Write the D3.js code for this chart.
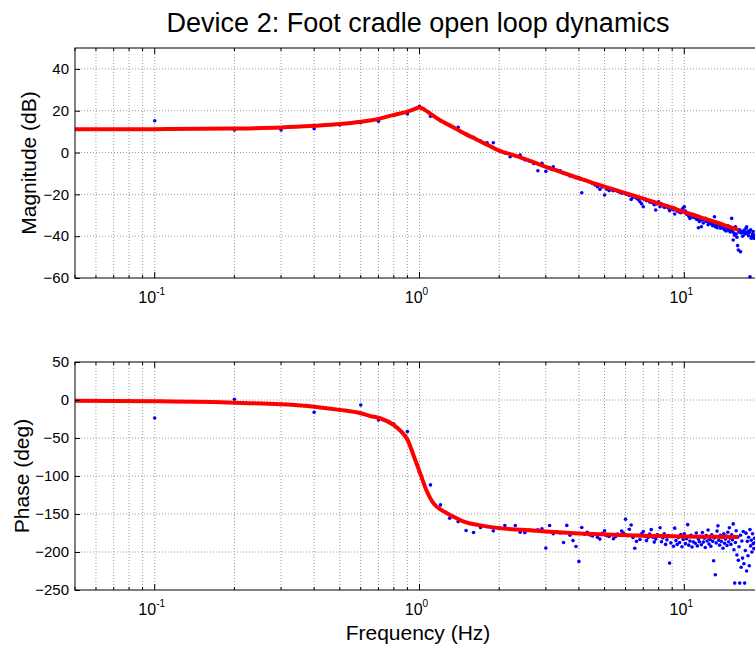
<!doctype html>
<html>
<head>
<meta charset="UTF-8">
<title>Device 2: Foot cradle open loop dynamics</title>
<script src="https://cdn.jsdelivr.net/npm/d3@7"></script>
<style>
    body { margin: 0; background: #fff; }
    svg { display: block; font-family: "Liberation Sans", Arial, sans-serif; }
    .grid line { stroke: #9a9a9a; stroke-width: 1; stroke-dasharray: 1,2; }
</style>
</head>
<body>
<svg id="chart" width="755" height="645"></svg>
<script>
// measured points (Hz), shared by both panels
var measFreq = [
    0.1, 0.2, 0.3, 0.4, 0.5, 0.6, 0.7, 0.8, 0.9, 1.0,
    1.1, 1.2, 1.3, 1.4, 1.5, 1.6, 1.7, 1.8, 1.9, 2.0,
    2.1, 2.2, 2.3, 2.4, 2.5, 2.6, 2.7, 2.8, 2.9, 3.0,
    3.1, 3.2, 3.3, 3.4, 3.5, 3.6, 3.7, 3.8, 3.9, 4.0,
    4.1, 4.2, 4.3, 4.4, 4.5, 4.6, 4.7, 4.8, 4.9, 5.0,
    5.1, 5.2, 5.3, 5.4, 5.5, 5.6, 5.7, 5.8, 5.9, 6.0,
    6.1, 6.2, 6.3, 6.4, 6.5, 6.6, 6.7, 6.8, 6.9, 7.0,
    7.1, 7.2, 7.3, 7.4, 7.5, 7.6, 7.7, 7.8, 7.9, 8.0,
    8.1, 8.2, 8.3, 8.4, 8.5, 8.6, 8.7, 8.8, 8.9, 9.0,
    9.1, 9.2, 9.3, 9.4, 9.5, 9.6, 9.7, 9.8, 9.9, 10.0,
    10.1, 10.2, 10.3, 10.4, 10.5, 10.6, 10.7, 10.8, 10.9, 11.0,
    11.1, 11.2, 11.3, 11.4, 11.5, 11.6, 11.7, 11.8, 11.9, 12.0,
    12.1, 12.2, 12.3, 12.4, 12.5, 12.6, 12.7, 12.8, 12.9, 13.0,
    13.1, 13.2, 13.3, 13.4, 13.5, 13.6, 13.7, 13.8, 13.9, 14.0,
    14.1, 14.2, 14.3, 14.4, 14.5, 14.6, 14.7, 14.8, 14.9, 15.0,
    15.1, 15.2, 15.3, 15.4, 15.5, 15.6, 15.7, 15.8, 15.9, 16.0,
    16.1, 16.2, 16.3, 16.4, 16.5, 16.6, 16.7, 16.8, 16.9, 17.0,
    17.1, 17.2, 17.3, 17.4, 17.5, 17.6, 17.7, 17.8, 17.9, 18.0,
    18.1, 18.2, 18.3, 18.4, 18.5
];
var measMag = [
    15.2, 10.8, 10.8, 11.4, 13.2, 14.3, 15.0, 17.8, 18.4, 22.1,
    17.3, 15.2, 13.0, 12.1, 8.8, 7.3, 5.5, 4.7, 4.7, 1.0,
    -0.2, -2.0, -1.5, -1.2, -3.5, -4.0, -5.2, -8.7, -5.1, -9.0,
    -7.2, -6.8, -8.5, -8.7, -10.0, -10.5, -11.2, -11.5, -12.0, -11.9,
    -19.2, -13.0, -13.5, -14.0, -14.8, -15.5, -16.3, -17.6, -16.5, -20.3,
    -17.5, -18.2, -17.8, -18.3, -18.0, -18.5, -19.0, -19.5, -19.2, -19.8,
    -20.0, -20.5, -22.4, -21.5, -21.0, -21.8, -22.5, -23.5, -24.5, -25.9,
    -22.4, -23.0, -22.8, -23.6, -23.8, -24.0, -25.0, -27.5, -24.6, -23.5,
    -25.9, -24.5, -25.0, -26.2, -26.0, -25.5, -26.5, -27.8, -27.0, -26.5,
    -27.5, -29.4, -27.2, -28.0, -27.6, -28.5, -28.8, -27.3, -26.5, -25.9,
    -28.0, -29.5, -29.0, -30.5, -31.5, -30.0, -29.6, -31.0, -30.2, -31.0,
    -31.8, -32.0, -36.0, -33.0, -32.5, -35.5, -32.2, -33.7, -32.0, -31.5,
    -33.0, -32.8, -34.5, -33.5, -32.5, -34.0, -33.2, -35.0, -34.2, -30.7,
    -35.5, -34.8, -36.0, -34.5, -33.8, -35.0, -36.2, -35.4, -34.6, -35.8,
    -36.5, -37.0, -35.5, -37.5, -36.8, -35.0, -36.0, -37.2, -38.0, -36.5,
    -31.5, -37.8, -41.8, -38.5, -39.5, -35.5, -39.0, -40.5, -44.5, -46.6,
    -38.0, -37.0, -47.4, -38.5, -37.9, -40.0, -38.0, -37.2, -39.0, -38.3,
    -36.2, -35.5, -38.8, -37.5, -39.8, -38.2, -59.4, -37.0, -41.0, -40.2,
    -39.0, -37.8, -41.0, -39.5, -40.5
];
var measPhase = [
    -23.7, 0.9, -6.0, -16.2, -13.0, -6.6, -26.3, -31.5, -41.6, -95.0,
    -111.7, -138.0, -155.5, -160.0, -171.7, -174.3, -167.8, -166.5, -172.2, -168.0,
    -165.1, -170.0, -165.1, -174.0, -174.5, -171.0, -172.0, -170.8, -169.5, -194.9,
    -165.1, -176.0, -173.5, -175.0, -187.5, -165.0, -178.0, -185.0, -192.7, -212.4,
    -167.8, -176.5, -174.0, -177.5, -179.0, -176.0, -180.5, -183.0, -175.5, -172.0,
    -178.5, -179.5, -177.0, -182.5, -180.0, -176.5, -178.0, -172.5, -175.0, -156.8,
    -178.5, -170.0, -164.5, -181.0, -195.0, -186.0, -178.0, -183.5, -176.0, -173.0,
    -179.5, -185.0, -181.0, -176.5, -170.5, -180.5, -187.0, -183.0, -177.5, -179.0,
    -168.0, -186.5, -181.5, -176.0, -190.0, -184.0, -178.5, -214.6, -188.0, -179.5,
    -192.5, -168.6, -185.0, -190.0, -181.0, -187.5, -177.0, -193.0, -183.5, -176.0,
    -189.0, -182.5, -164.0, -191.0, -185.5, -178.0, -193.5, -186.5, -180.0, -188.5,
    -175.0, -192.0, -183.0, -186.5, -179.5, -190.5, -174.5, -187.0, -182.0, -194.0,
    -178.5, -185.5, -171.0, -189.5, -183.5, -192.5, -177.5, -186.0, -211.6, -181.5,
    -230.0, -188.0, -172.5, -165.6, -184.5, -191.0, -178.0, -186.0, -180.5, -195.0,
    -176.0, -188.5, -183.0, -179.0, -191.5, -174.0, -186.5, -168.0, -182.0, -190.0,
    -177.5, -184.0, -163.0, -197.0, -240.9, -187.5, -172.0, -204.0, -180.5, -211.0,
    -193.0, -240.9, -178.0, -220.0, -185.5, -208.0, -173.0, -215.5, -240.9, -198.0,
    -175.2, -225.0, -186.0, -205.0, -180.5, -218.0, -170.5, -192.0, -184.5, -200.0,
    -176.0, -189.0, -195.5, -182.0, -187.5
];

// fitted model (red curves)
var fitMagFreq = [0.05, 0.1, 0.2, 0.3, 0.4, 0.5, 0.6, 0.7, 0.8, 0.9, 0.95, 1.0, 1.05, 1.1, 1.2, 1.3, 1.4, 1.5, 1.6, 1.7,
    1.8, 1.9, 2.0, 2.2, 2.4, 2.6, 2.8, 3.0, 3.4, 4.0, 4.5, 5, 6, 7, 8, 9, 10, 11, 12, 13, 14, 15, 16];
var fitMag = [11.1, 11.2, 11.5, 12.0, 12.8, 13.6, 14.7, 16.1, 18.0, 19.6, 20.6, 21.6, 20.3, 18.5, 15.3, 13.0, 10.8, 8.7, 7.0, 5.3,
    3.8, 2.3, 0.9, -0.8, -2.3, -3.9, -5.4, -6.8, -9.2, -12.3, -14.5, -16.3, -19.4, -22.0, -24.3, -26.4, -28.5, -30.1, -31.7, -33.1, -34.5, -35.8, -37.0];
var fitPhaseFreq = [0.05, 0.1, 0.2, 0.3, 0.4, 0.5, 0.6, 0.65, 0.71, 0.8, 0.85, 0.9, 0.95, 1.0, 1.06, 1.13, 1.2, 1.27, 1.35, 1.47,
    1.7, 2.0, 2.5, 3, 4, 5.4, 7, 10, 13, 16];
var fitPhase = [-1, -1.7, -3.5, -5.7, -8.8, -13, -17.5, -21, -24, -33, -41, -52, -73, -94, -118, -136, -144, -149, -154, -160,
    -165, -168.6, -171, -173, -175.5, -177.4, -178.5, -179.6, -180, -180.4];

var magTicks = [-60, -40, -20, 0, 20, 40];
var phaseTicks = [-250, -200, -150, -100, -50, 0, 50];
var decades = [0.1, 1, 10];
var decadeExp = ["-1", "0", "1"];

var svg = d3.select("#chart");
var left = 75, right = 764;
var x = d3.scaleLog().domain([0.05, 20]).range([left, right]);

svg.append("text")
    .attr("x", 418).attr("y", 32)
    .attr("text-anchor", "middle")
    .attr("font-size", 27)
    .text("Device 2: Foot cradle open loop dynamics");

function drawPanel(top, bottom, yDomain, yTicks, yLabel, labelX, freqs, vals, fitF, fitV) {
    var y = d3.scaleLinear().domain(yDomain).range([bottom, top]);
    var g = svg.append("g");

    // dotted grid
    var grid = g.append("g").attr("class", "grid");
    grid.selectAll("line.v")
        .data(x.ticks().filter(function (d) { return x(d) > left + 1; }))
        .enter().append("line").attr("class", "v")
        .attr("x1", function (d) { return x(d); })
        .attr("x2", function (d) { return x(d); })
        .attr("y1", top).attr("y2", bottom);
    grid.selectAll("line.h")
        .data(yTicks.filter(function (d) { return d > yDomain[0] && d < yDomain[1]; }))
        .enter().append("line").attr("class", "h")
        .attr("x1", left).attr("x2", right)
        .attr("y1", function (d) { return y(d); })
        .attr("y2", function (d) { return y(d); });

    // measured points
    g.append("g").selectAll("circle")
        .data(d3.zip(freqs, vals))
        .enter().append("circle")
        .attr("cx", function (d) { return x(d[0]); })
        .attr("cy", function (d) { return y(d[1]); })
        .attr("r", 1.8)
        .attr("fill", "#0000ff");

    // fitted curve
    var line = d3.line()
        .x(function (d) { return x(d[0]); })
        .y(function (d) { return y(d[1]); })
        .curve(d3.curveMonotoneX);
    g.append("path")
        .datum(d3.zip(fitF, fitV))
        .attr("d", line)
        .attr("fill", "none")
        .attr("stroke", "#ff0000")
        .attr("stroke-width", 4)
        .attr("stroke-linejoin", "round");

    // box
    g.append("rect")
        .attr("x", left).attr("y", top)
        .attr("width", right - left).attr("height", bottom - top)
        .attr("fill", "none").attr("stroke", "#000");

    // y axis, ticks inward
    var ya = g.append("g")
        .attr("transform", "translate(" + left + ",0)")
        .call(d3.axisLeft(y).tickValues(yTicks).tickSize(-5).tickSizeOuter(0).tickPadding(6));
    ya.select(".domain").remove();
    ya.attr("font-size", 15).attr("font-family", null);

    // x ticks top and bottom, majors longer
    var xt = g.append("g");
    x.ticks().forEach(function (d) {
        var len = decades.indexOf(d) >= 0 ? 6 : 3;
        xt.append("line").attr("x1", x(d)).attr("x2", x(d)).attr("y1", bottom).attr("y2", bottom - len).attr("stroke", "#000");
        xt.append("line").attr("x1", x(d)).attr("x2", x(d)).attr("y1", top).attr("y2", top + len).attr("stroke", "#000");
    });

    // decade labels 10^n
    var lab = g.append("g").selectAll("text")
        .data(decades)
        .enter().append("text")
        .attr("x", function (d) { return x(d) - 3; })
        .attr("y", bottom + 25)
        .attr("text-anchor", "middle")
        .attr("font-size", 16);
    lab.append("tspan").text("10");
    lab.append("tspan")
        .attr("dy", -8)
        .attr("font-size", 10)
        .text(function (d, i) { return decadeExp[i]; });

    // y label
    svg.append("text")
        .attr("transform", "translate(" + labelX + "," + ((top + bottom) / 2) + ") rotate(-90)")
        .attr("text-anchor", "middle")
        .attr("dy", "0.35em")
        .attr("font-size", 21)
        .text(yLabel);
}

drawPanel(48, 278, [-60, 50], magTicks, "Magnitude (dB)", 29, measFreq, measMag, fitMagFreq, fitMag);
drawPanel(362, 590, [-250, 50], phaseTicks, "Phase (deg)", 22, measFreq, measPhase, fitPhaseFreq, fitPhase);

svg.append("text")
    .attr("x", 418).attr("y", 640)
    .attr("text-anchor", "middle")
    .attr("font-size", 21)
    .text("Frequency (Hz)");
</script>
</body>
</html>
